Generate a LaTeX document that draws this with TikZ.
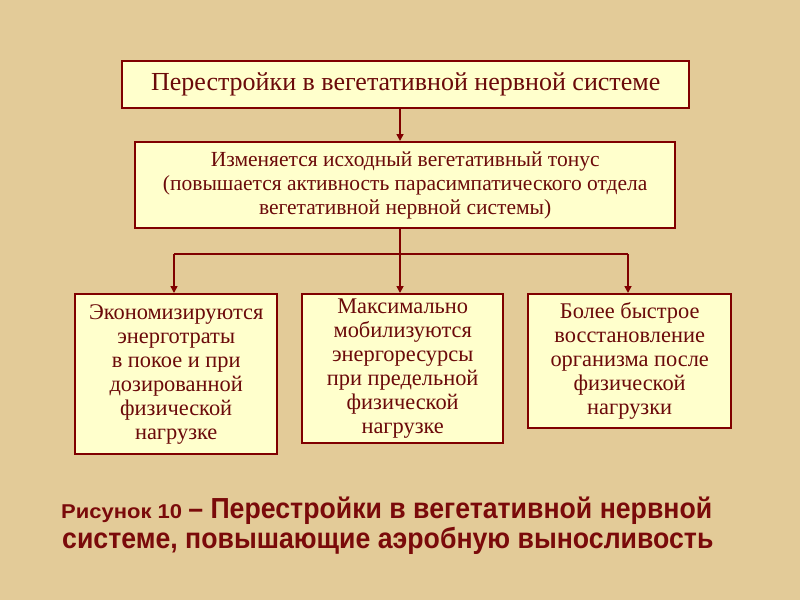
\documentclass[tikz,border=0pt]{standalone}
\usepackage{fontspec}
\setmainfont{Liberation Serif}
\newfontfamily\capfont[FakeStretch=0.92]{Liberation Sans}
\newfontfamily\capsmall[FakeStretch=1.1]{Liberation Sans}
\usetikzlibrary{arrows.meta}
\definecolor{bgtan}{HTML}{E3CB98}
\definecolor{boxfill}{HTML}{FFFFCC}
\definecolor{darkline}{HTML}{800000}
\definecolor{txtred}{HTML}{6B0A0A}
\definecolor{capred}{HTML}{7A0A0A}
\tikzset{
  box/.style={draw=darkline, line width=2.4pt, fill=boxfill, text=txtred, align=center, anchor=north west, inner sep=0pt},
  conn/.style={draw=darkline, line width=1.6pt},
  arr/.style={conn, -{Triangle[length=7pt,width=7pt]}},
}
\begin{document}
\begin{tikzpicture}[x=1pt,y=-1pt]
\fill[bgtan] (0,0) rectangle (800,600);
\useasboundingbox (0,0) rectangle (800,600);
\node[box, minimum width=567pt, minimum height=47pt, font=\fontsize{26}{30}\selectfont] (top) at (121,60) {Перестройки в вегетативной нервной системе};
\node[box, minimum width=540pt, minimum height=86pt, font=\fontsize{21.5}{24}\selectfont] (mid) at (134,141) {Изменяется исходный вегетативный тонус\\(повышается активность парасимпатического отдела\\вегетативной нервной системы)};
\node[box, minimum width=202pt, minimum height=160pt, font=\fontsize{22.4}{24}\selectfont] (b1) at (74,293) {Экономизируются\\энерготраты\\в покое и при\\дозированной\\физической\\нагрузке};
\node[box, minimum width=201pt, minimum height=149pt, font=\fontsize{22.4}{24}\selectfont] (b2) at (301,293) {Максимально\\мобилизуются\\энергоресурсы\\при предельной\\физической\\нагрузке};
\node[box, minimum width=203pt, minimum height=134pt, font=\fontsize{22.4}{24}\selectfont] (b3) at (527,293) {Более быстрое\\восстановление\\организма после\\физической\\нагрузки};
\coordinate (hl) at (174,254);
\coordinate (hr) at (628,254);
\draw[arr] (top.south -| 400,0) -- (mid.north -| 400,0);
\draw[arr] (mid.south -| 400,0) -- (b2.north -| 400,0);
\draw[conn] (hl) -- (hr);
\draw[arr] (hl) -- (hl |- b1.north);
\draw[arr] (hr) -- (hr |- b3.north);
\node[anchor=base west, inner sep=0pt, text=capred, font=\capsmall\bfseries\fontsize{20}{24}\selectfont] (cap1) at (61,518) {Рисунок 10 \capfont\fontsize{29}{32}\selectfont – Перестройки в вегетативной нервной};
\node[anchor=base west, inner sep=0pt, text=capred, font=\capfont\bfseries\fontsize{29}{32}\selectfont] (cap2) at (62,548) {системе, повышающие аэробную выносливость};
\end{tikzpicture}
\end{document}
